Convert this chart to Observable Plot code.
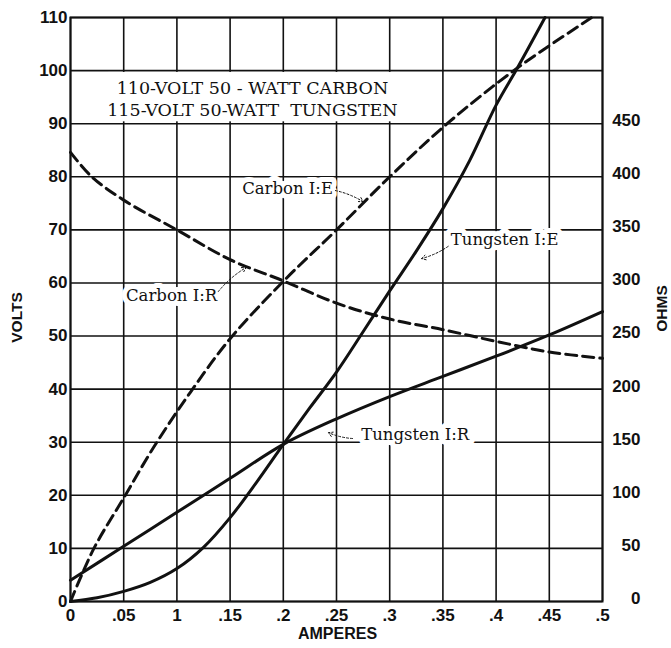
<!DOCTYPE html>
<html>
<head>
<meta charset="utf-8">
<script src="https://cdn.jsdelivr.net/npm/d3@7"></script>
<script src="https://cdn.jsdelivr.net/npm/@observablehq/plot@0.6"></script>
<style>
  html, body { margin: 0; padding: 0; background: #fff; }
  #chart svg { display: block; }
</style>
</head>
<body>
<div id="chart"></div>
<script>
// ---- axis ticks ----
const xTicks = [0, 0.05, 0.1, 0.15, 0.2, 0.25, 0.3, 0.35, 0.4, 0.45, 0.5];
const xTickLabels = ["0", ".05", "1", ".15", ".2", ".25", ".3", ".35", ".4", ".45", ".5"];
const voltTicks = [0, 10, 20, 30, 40, 50, 60, 70, 80, 90, 100, 110];
const ohmTicks = [0, 50, 100, 150, 200, 250, 300, 350, 400, 450];
const ohmsPerVolt = 5; // right scale: 50 ohms per 10 volts

// ---- series ----
const carbonEAmps  = [0, 0.022, 0.05, 0.078, 0.113, 0.15, 0.2, 0.25, 0.3, 0.354, 0.42, 0.49];
const carbonEVolts = [0, 10, 19.5, 29, 39.5, 49.5, 60.3, 70, 80, 90, 100.5, 110];

const carbonRAmps = [0, 0.02, 0.05, 0.1, 0.15, 0.2, 0.25, 0.3, 0.35, 0.4, 0.45, 0.5];
const carbonROhms = [423, 400, 378, 350, 322, 302, 281, 266, 256, 245, 235, 229];

const tungstenEAmps  = [0, 0.025, 0.05, 0.075, 0.1, 0.125, 0.15, 0.175, 0.2, 0.225, 0.25, 0.275, 0.3, 0.325, 0.35, 0.375, 0.4, 0.42, 0.446];
const tungstenEVolts = [0, 0.7, 1.9, 3.6, 6.2, 10.2, 15.8, 22.5, 29.6, 36.5, 43.2, 50.8, 58.5, 66, 74, 83, 93.5, 100.5, 110];

const tungstenRAmps = [0, 0.05, 0.1, 0.15, 0.2, 0.25, 0.3, 0.35, 0.4, 0.45, 0.5];
const tungstenROhms = [20, 52, 84, 116, 148, 172, 193, 212, 231, 251, 273];

// ---- annotations ----
const titleLines = ["110-VOLT 50 - WATT CARBON", "115-VOLT 50-WATT  TUNGSTEN"];
const titleAmps = [0.171, 0.171];
const titleVolts = [96.6, 92.5];
const titleBoxAmps = [0.036, 0.31];
const titleBoxVolts = [90.35, 99.65];

const labelTexts = ["Carbon I:E", "Tungsten I:E", "Carbon I:R", "Tungsten I:R"];
const labelAmps  = [0.204, 0.408, 0.095, 0.324];
const labelVolts = [77.8, 68.2, 57.6, 31.4];
const arrowFromAmps  = [0.249, 0.355, 0.139, 0.265];
const arrowFromVolts = [77.4, 66.9, 58.4, 30.7];
const arrowToAmps    = [0.275, 0.330, 0.165, 0.2425];
const arrowToVolts   = [75.3, 64.6, 62.9, 31.8];

// ---- build tables ----
const carbonE = carbonEAmps.map((a, i) => ({a, v: carbonEVolts[i]}));
const carbonR = carbonRAmps.map((a, i) => ({a, ohms: carbonROhms[i]}));
const tungstenE = tungstenEAmps.map((a, i) => ({a, v: tungstenEVolts[i]}));
const tungstenR = tungstenRAmps.map((a, i) => ({a, ohms: tungstenROhms[i]}));
const titles = titleLines.map((t, i) => ({t, a: titleAmps[i], v: titleVolts[i]}));
const labels = labelTexts.map((t, i) => ({t, a: labelAmps[i], v: labelVolts[i]}));
const arrows = arrowFromAmps.map((a, i) => ({x1: a, y1: arrowFromVolts[i], x2: arrowToAmps[i], y2: arrowToVolts[i]}));
const box = [{x1: titleBoxAmps[0], x2: titleBoxAmps[1], y1: titleBoxVolts[0], y2: titleBoxVolts[1]}];

const ink = "#111";
const sans = "'Liberation Sans', Arial, sans-serif";
const serif = "'DejaVu Serif', serif";

const chart = Plot.plot({
  width: 671,
  height: 648,
  marginLeft: 70,
  marginRight: 69,
  marginTop: 17,
  marginBottom: 47,
  style: {background: "#fff", fontFamily: sans, color: ink},
  x: {domain: [0, 0.5]},
  y: {domain: [0, 110]},
  marks: [
    Plot.gridX(xTicks, {stroke: ink, strokeOpacity: 1, strokeWidth: 1.6}),
    Plot.gridY(voltTicks, {stroke: ink, strokeOpacity: 1, strokeWidth: 1.6}),
    Plot.rect(box, {x1: "x1", x2: "x2", y1: "y1", y2: "y2", fill: "#fff"}),
    Plot.text(titles, {x: "a", y: "v", text: "t", fontFamily: serif, fontSize: 17.5, fill: ink, textAnchor: "middle"}),
    Plot.text(labels, {x: "a", y: "v", text: "t", fontFamily: serif, fontSize: 16.5, fill: ink,
      stroke: "#fff", strokeWidth: 10, paintOrder: "stroke", textAnchor: "middle"}),
    Plot.arrow(arrows, {x1: "x1", y1: "y1", x2: "x2", y2: "y2", stroke: ink, strokeWidth: 1,
      strokeDasharray: "2,2", headLength: 7, bend: 10}),
    Plot.line(carbonE, {x: "a", y: "v", curve: "catmull-rom", stroke: ink, strokeWidth: 3, strokeDasharray: "11,6"}),
    Plot.line(carbonR, {x: "a", y: d => d.ohms / ohmsPerVolt, curve: "catmull-rom", stroke: ink, strokeWidth: 3, strokeDasharray: "11,6"}),
    Plot.line(tungstenE, {x: "a", y: "v", curve: "catmull-rom", stroke: ink, strokeWidth: 3}),
    Plot.line(tungstenR, {x: "a", y: d => d.ohms / ohmsPerVolt, curve: "catmull-rom", stroke: ink, strokeWidth: 3}),
    Plot.frame({stroke: ink, strokeWidth: 2}),
    Plot.axisX(xTicks, {anchor: "bottom", tickSize: 0, tickPadding: 7, fontSize: 17, fontWeight: "bold",
      tickFormat: (d, i) => xTickLabels[i], label: null}),
    Plot.axisY(voltTicks, {anchor: "left", tickSize: 0, tickPadding: 3, fontSize: 17, fontWeight: "bold", label: null}),
    Plot.axisY(ohmTicks.map(o => o / ohmsPerVolt), {anchor: "right", tickSize: 0, tickPadding: 38, textAnchor: "end",
      dy: -3, fontSize: 17, fontWeight: "bold", tickFormat: (d, i) => String(ohmTicks[i]), label: null}),
    Plot.text(["AMPERES"], {frameAnchor: "bottom", dy: 37, fontSize: 16, fontWeight: "bold", textAnchor: "middle", dx: 1}),
    Plot.text(["VOLTS"], {frameAnchor: "left", dx: -53, dy: 8, rotate: -90, fontSize: 15.5, fontWeight: "bold", textAnchor: "middle"}),
    Plot.text(["OHMS"], {frameAnchor: "right", dx: 60, dy: -1, rotate: -90, fontSize: 15.5, fontWeight: "bold", textAnchor: "middle"})
  ]
});
document.getElementById("chart").appendChild(chart);
</script>
</body>
</html>
